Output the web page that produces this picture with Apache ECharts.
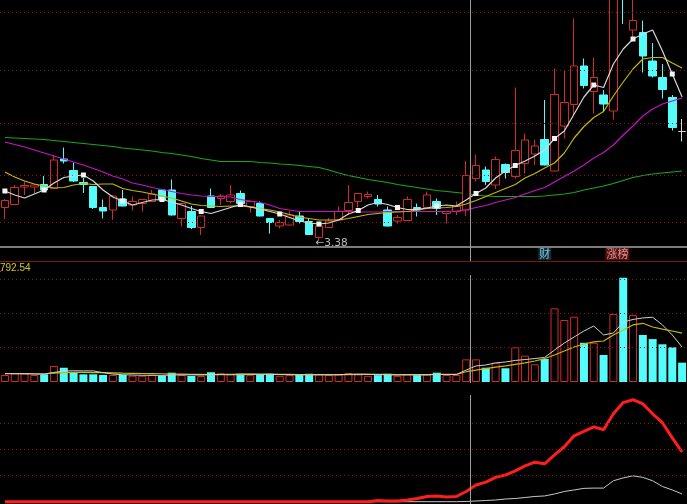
<!DOCTYPE html>
<html><head><meta charset="utf-8">
<script src="https://cdn.jsdelivr.net/npm/echarts@6/dist/echarts.min.js"></script>
<style>html,body{margin:0;padding:0;background:#000;overflow:hidden}#c{width:687px;height:504px}</style>
</head><body><div id="c"></div>
<script>
// ---- data ----
const categories = Array.from({length: 70}, (_, i) => 'D' + (i + 1));
const opens  = [4.05,4.11,4.46,4.46,4.51,4.43,5.02,4.79,4.55,4.47,4.05,4.00,4.22,4.10,4.13,4.17,4.40,4.40,3.83,3.97,3.65,4.28,4.23,4.17,4.33,4.07,4.13,3.83,3.68,3.70,3.88,3.77,3.45,3.65,3.80,3.99,4.17,4.27,4.21,4.00,3.78,3.79,4.05,4.05,4.17,3.93,3.97,4.00,4.63,4.80,4.50,4.91,4.67,4.93,5.12,5.41,4.78,5.68,6.11,6.88,6.37,6.30,5.98,9.00,7.60,7.55,6.98,6.65,6.25,5.57];
const closes = [4.19,4.45,4.49,4.50,4.40,5.00,4.98,4.58,4.51,4.05,3.98,4.28,4.08,4.17,4.21,4.32,4.20,3.90,4.13,3.65,3.88,4.05,4.28,4.30,4.13,4.17,3.88,3.75,3.75,3.90,3.77,3.51,3.68,3.78,3.97,4.15,4.33,4.31,4.12,3.68,3.85,4.21,4.00,4.30,4.03,3.97,4.07,4.69,4.89,4.57,5.01,4.75,5.19,5.40,5.28,4.90,6.31,6.15,6.88,6.49,6.65,6.12,8.46,8.38,7.79,7.08,6.68,6.41,5.65,5.57];
const lows   = [3.82,4.10,4.30,4.34,4.39,4.42,4.93,4.56,4.34,4.02,3.83,3.80,4.07,3.99,3.97,4.16,4.18,3.89,3.67,3.62,3.50,4.04,4.10,4.13,4.07,3.95,3.87,3.53,3.63,3.69,3.73,3.50,3.38,3.64,3.79,3.90,4.05,4.23,4.07,3.67,3.73,3.78,3.87,4.04,3.90,3.73,3.90,3.88,4.57,4.50,4.42,4.63,4.63,4.73,4.90,4.89,4.77,5.43,5.90,6.43,5.93,5.97,5.81,7.72,7.43,6.75,6.65,6.23,5.59,5.37];
const highs  = [4.22,4.50,4.57,4.52,4.68,5.10,5.25,4.95,4.64,4.48,4.21,4.30,4.40,4.27,4.22,4.40,4.42,4.61,4.14,4.08,3.89,4.43,4.32,4.50,4.39,4.18,4.17,3.84,3.80,3.98,3.98,3.83,3.70,3.84,4.07,4.50,4.34,4.37,4.30,4.07,3.90,4.27,4.13,4.37,4.23,3.98,4.17,4.98,5.11,4.87,5.07,4.93,6.45,5.53,5.41,6.20,6.83,6.80,7.83,7.03,7.05,6.40,8.60,9.10,8.30,7.79,7.34,6.92,6.30,5.82];
const ma5  = [4.38,4.30,4.24,4.32,4.40,4.54,4.65,4.68,4.70,4.58,4.40,4.26,4.18,4.10,4.15,4.20,4.21,4.16,4.10,4.03,3.97,3.93,3.99,4.05,4.11,4.06,4.02,3.97,3.92,3.85,3.78,3.74,3.72,3.74,3.80,3.92,3.99,4.10,4.15,4.11,4.05,4.01,4.01,4.04,4.08,4.10,4.08,4.20,4.33,4.44,4.64,4.78,4.89,4.98,5.08,5.20,5.43,5.58,5.92,6.26,6.50,6.45,6.92,7.22,7.42,7.52,7.60,7.18,6.72,6.26];
const ma10 = [4.76,4.66,4.58,4.52,4.48,4.44,4.45,4.50,4.53,4.51,4.52,4.52,4.43,4.39,4.36,4.32,4.28,4.24,4.18,4.12,4.09,4.08,4.07,4.08,4.08,4.06,4.03,4.00,3.96,3.91,3.86,3.83,3.80,3.80,3.80,3.83,3.87,3.91,3.93,3.95,3.96,3.97,4.00,4.03,4.04,4.05,4.07,4.12,4.19,4.27,4.35,4.43,4.51,4.64,4.73,4.84,4.94,5.14,5.44,5.67,5.85,5.97,6.28,6.56,6.82,7.02,7.05,7.05,6.94,6.84];
const ma20 = [5.36,5.31,5.26,5.20,5.14,5.08,5.02,4.96,4.90,4.83,4.76,4.68,4.62,4.54,4.50,4.45,4.41,4.37,4.33,4.30,4.28,4.27,4.27,4.26,4.21,4.18,4.15,4.10,4.03,4.00,3.97,3.97,3.97,3.97,3.97,3.97,3.96,3.96,3.96,3.97,3.97,3.97,3.97,3.97,3.97,3.97,3.98,4.00,4.05,4.09,4.15,4.20,4.25,4.32,4.39,4.45,4.56,4.67,4.78,4.90,5.04,5.15,5.30,5.50,5.68,5.88,6.02,6.12,6.18,6.24];
const ma60 = [5.45,5.44,5.43,5.42,5.41,5.39,5.37,5.35,5.33,5.31,5.29,5.27,5.24,5.22,5.20,5.18,5.15,5.13,5.10,5.07,5.03,5.00,4.97,4.97,4.97,4.97,4.95,4.94,4.92,4.91,4.89,4.87,4.85,4.80,4.74,4.69,4.65,4.61,4.58,4.55,4.51,4.48,4.45,4.42,4.39,4.37,4.35,4.33,4.30,4.28,4.27,4.27,4.27,4.27,4.27,4.28,4.30,4.32,4.35,4.40,4.44,4.48,4.53,4.59,4.65,4.69,4.72,4.74,4.76,4.78];
const volume = [51,63,63,51,56,117,104,71,56,56,51,51,51,46,46,51,46,68,51,44,44,71,63,56,60,50,55,60,45,50,55,60,55,50,55,65,55,45,50,60,45,55,50,55,68,51,51,165,165,104,141,100,253,192,129,168,537,452,476,286,286,197,496,760,488,343,313,275,253,141];
const volMa5  = [60,60,60,58,57,70,80,82,81,81,68,58,53,51,49,49,48,51,52,52,51,54,56,56,58,58,57,56,54,53,52,53,53,52,53,56,57,56,54,53,51,53,52,52,56,54,55,87,117,124,139,146,157,164,171,179,233,284,328,372,408,343,357,437,456,467,472,416,343,255];
const volMa10 = [62,62,61,60,60,64,68,70,70,69,68,66,64,63,62,61,60,58,57,56,55,54,53,53,54,55,56,57,56,55,54,54,54,54,54,54,55,55,55,55,54,54,54,54,55,55,55,75,87,98,109,117,128,139,153,171,197,226,255,277,292,299,343,379,416,428,401,386,372,357];
const indRed   = [0,0,0,0,0,0,0,0,0,0,0,0,0,0,0,0,0,0,0,0,0,0,0,0,0,0,0,0,0,0,0,0,0,0,0,0,0,0,0.46,0.27,0.27,0.65,1.23,2.0,2.18,1.8,1.99,3.9,6.4,7.5,9.3,10.2,11.8,13.7,15.1,14.5,17.9,21.0,25.2,26.9,28.6,27.5,33.6,37.9,39.0,37.4,33.6,30.2,24.4,19.0];
const indWhite = [0,0,0,0,0,0,0,0,0,0,0,0,0,0,0,0,0,0,0,0,0,0,0,0,0,0,0,0,0,0,0,0,0,0,0,0,0,0,0,0,0,0,0,0,0,0,0,0.08,0.27,0.46,0.65,1.03,1.23,1.6,2.0,2.2,2.95,3.9,4.5,5.1,5.2,5.2,8.0,9.1,9.9,9.3,8.0,5.8,4.5,2.96];
const eventIndex = [55, 62];
const eventText  = ['财', '涨榜'];
const priceGridLevels = [7.954, 6.80, 5.734, 4.686, 3.754];
const volGridLevels = [750, 500, 250];
const indGridLevels = [30, 20, 10];
const volHeader = '792.54';

// ---- styles ----
const RED = '#d02a2a', CYAN = '#54fcfc', GRIDC = '#8a1414';
const dirs = closes.map((c, i) => c > opens[i] ? 1 : c < opens[i] ? -1 : (i > 0 && c >= closes[i - 1] ? 1 : -1));
const kData = opens.map((o, i) => [o, closes[i], lows[i], highs[i]]);
const volData = volume.map((v, i) => ({
  value: v,
  itemStyle: dirs[i] > 0 ? {color: '#000', borderColor: RED, borderWidth: 1} : {color: CYAN, borderColor: CYAN, borderWidth: 0}
}));
const gridMark = (levels) => ({
  silent: true, symbol: ['none', 'none'], label: {show: false}, animation: false,
  lineStyle: {color: GRIDC, type: [1, 3], width: 1},
  data: levels.map(v => ({yAxis: v}))
});
const W = 690.4;
const xAx = (gi) => ({type: 'category', gridIndex: gi, data: categories, boundaryGap: true,
  axisLine: {show: false}, axisTick: {show: false}, axisLabel: {show: false}, splitLine: {show: false}});

const chart = echarts.init(document.getElementById('c'), null, {renderer: 'canvas'});
chart.setOption({
  backgroundColor: '#000',
  animation: false,
  grid: [
    {left: 0, top: 0, width: W, height: 247},
    {left: 0, top: 262, width: W, height: 120},
    {left: 0, top: 384, width: W, height: 117.7},
    {left: 0, top: 248, width: W, height: 12}
  ],
  xAxis: [xAx(0), xAx(1), xAx(2), xAx(3)],
  yAxis: [
    {type: 'value', gridIndex: 0, min: 3.26, max: 8.2, show: false, splitLine: {show: false}},
    {type: 'value', gridIndex: 1, min: 0, max: 875, show: false, splitLine: {show: false}},
    {type: 'value', gridIndex: 2, min: 0, max: 45, show: false, splitLine: {show: false}},
    {type: 'value', gridIndex: 3, min: 0, max: 1, show: false, splitLine: {show: false}}
  ],
  series: [
    {type: 'line', xAxisIndex: 0, yAxisIndex: 0, data: ma60, symbol: 'none', z: 1,
     lineStyle: {color: '#17a817', width: 1.2}, markLine: gridMark(priceGridLevels)},
    {type: 'candlestick', xAxisIndex: 0, yAxisIndex: 0, data: kData, barWidth: 8, z: 3,
     itemStyle: {color: '#000', color0: CYAN, borderColor: RED, borderColor0: CYAN, borderWidth: 1, borderColorDoji: '#d8d8d8'},
     markPoint: {symbol: 'rect', symbolSize: 1, itemStyle: {color: 'rgba(0,0,0,0)'},
       data: [{type: 'min', valueDim: 'lowest'}],
       label: {show: true, position: [-3, -3], color: '#bdbdbd', fontSize: 10.5, fontFamily: 'DejaVu Sans',
         formatter: p => '←' + Number(p.value).toFixed(2)}}},
    {type: 'line', xAxisIndex: 0, yAxisIndex: 0, data: ma20, symbol: 'none', z: 4,
     lineStyle: {color: '#c414c4', width: 1.2}},
    {type: 'line', xAxisIndex: 0, yAxisIndex: 0, data: ma10, symbol: 'none', z: 4,
     lineStyle: {color: '#c8b800', width: 1.2}},
    {type: 'line', xAxisIndex: 0, yAxisIndex: 0, data: ma5, z: 5,
     symbol: (v, p) => p.dataIndex % 4 === 0 ? 'rect' : 'none', symbolSize: 5, showAllSymbol: true, showSymbol: true,
     itemStyle: {color: '#f4f4f4'}, lineStyle: {color: '#d8d8d8', width: 1.2}},
    {type: 'bar', xAxisIndex: 1, yAxisIndex: 1, data: volData, barWidth: 8, z: 3},
    {type: 'line', xAxisIndex: 1, yAxisIndex: 1, data: volMa10, symbol: 'none', z: 4,
     lineStyle: {color: '#c8b800', width: 1.2}, markLine: gridMark(volGridLevels)},
    {type: 'line', xAxisIndex: 1, yAxisIndex: 1, data: volMa5, symbol: 'none', z: 5,
     lineStyle: {color: '#d0d0d0', width: 1}},
    {type: 'line', xAxisIndex: 2, yAxisIndex: 2, data: indWhite, symbol: 'none', z: 3, clip: false,
     lineStyle: {color: '#c8c8c8', width: 1}, markLine: gridMark(indGridLevels)},
    {type: 'line', xAxisIndex: 2, yAxisIndex: 2, data: indRed, symbol: 'none', z: 4, clip: false,
     lineStyle: {color: '#ff1e1e', width: 3}},
    {type: 'scatter', xAxisIndex: 3, yAxisIndex: 3, symbolSize: 0, z: 5,
     data: eventIndex.map((ix, k) => ({value: [ix, 0.5], name: eventText[k],
       label: k === 0 ? {backgroundColor: '#123a44', color: '#9fe6ff'} : {backgroundColor: '#6e1616', color: '#ffb4b4', offset: [4, 0]}})),
     label: {show: true, position: 'inside', formatter: p => p.name, fontSize: 11,
       fontFamily: 'Noto Sans CJK SC', padding: [0, 1], lineHeight: 12}}
  ],
  graphic: [
    {type: 'line', shape: {x1: 0, y1: 247, x2: 687, y2: 247}, style: {stroke: '#a6a6a6', lineWidth: 1.5}, z: 10},
    {type: 'line', shape: {x1: 0, y1: 261.5, x2: 687, y2: 261.5}, style: {stroke: '#7d1616', lineWidth: 1}, z: 10},
    {type: 'line', shape: {x1: 470.5, y1: 0, x2: 470.5, y2: 261}, style: {stroke: '#9c9c9c', lineWidth: 1}, z: 11},
    {type: 'line', shape: {x1: 470.5, y1: 275, x2: 470.5, y2: 383}, style: {stroke: '#9c9c9c', lineWidth: 1}, z: 11},
    {type: 'line', shape: {x1: 470.5, y1: 395, x2: 470.5, y2: 504}, style: {stroke: '#9c9c9c', lineWidth: 1}, z: 11},
    {type: 'line', shape: {x1: -2, y1: 274, x2: 3, y2: 269}, style: {stroke: '#c03030', lineWidth: 1}, z: 11},
    {type: 'text', left: 0, top: 263, z: 11,
     style: {text: volHeader, fill: '#d8c818', font: '10px "Liberation Sans"'}}
  ]
});
</script></body></html>
